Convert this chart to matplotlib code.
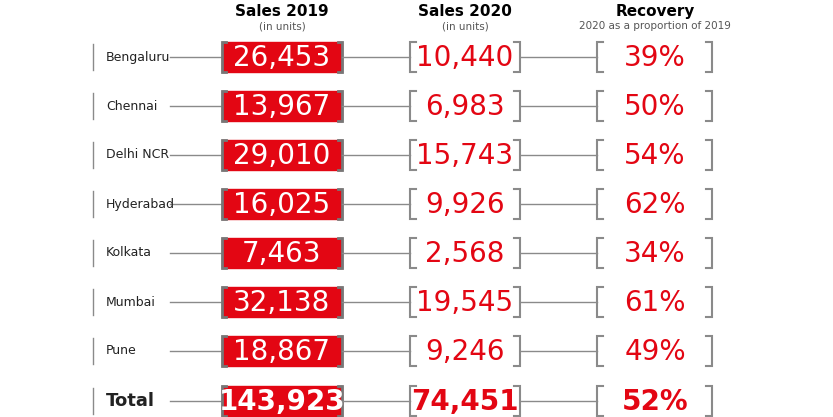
import matplotlib.pyplot as plt
import matplotlib.patches as mpatches

cities = ["Bengaluru", "Chennai", "Delhi NCR", "Hyderabad", "Kolkata", "Mumbai", "Pune", "Total"]
sales_2019 = ["26,453", "13,967", "29,010", "16,025", "7,463", "32,138", "18,867", "143,923"]
sales_2020 = ["10,440", "6,983", "15,743", "9,926", "2,568", "19,545", "9,246", "74,451"]
recovery = ["39%", "50%", "54%", "62%", "34%", "61%", "49%", "52%"]

RED = "#e30613"
GREY = "#8a8a8a"
FONT = "Liberation Sans Narrow"

fig = plt.figure(figsize=(8.33, 4.17), dpi=100)
ax = fig.add_axes([0, 0, 1, 1])
ax.set_xlim(0, 833)
ax.set_ylim(417, 0)
ax.axis("off")

# headers
for x, title, sub in [(282, "Sales 2019", "(in units)"), (465, "Sales 2020", "(in units)"),
                      (655, "Recovery", "2020 as a proportion of 2019")]:
    ax.text(x, 11, title, ha="center", va="center", fontsize=11, fontweight="bold", family=FONT)
    ax.text(x, 26, sub, ha="center", va="center", fontsize=7.5, color="#555555", family=FONT)


def bracket(x, y, h, side, w=6, color=GREY, lw=1.5):
    d = w if side == "left" else -w
    ax.plot([x + d, x, x, x + d], [y - h, y - h, y + h, y + h], color=color, lw=lw,
            solid_joinstyle="miter")


for i, city in enumerate(cities):
    y = 57 + i * 49 + (1 if i == 7 else 0)
    total = city == "Total"
    ax.plot([93, 93], [y - 13, y + 13], color=GREY, lw=1)
    ax.text(106, y, city, ha="left", va="center", fontsize=13 if total else 9,
            fontweight="bold" if total else "normal", family=FONT, color="#222222")
    ax.plot([170, 222], [y, y], color=GREY, lw=1)
    ax.add_patch(mpatches.Rectangle((222, y - 15), 120, 30, color=RED, zorder=2))
    bracket(222, y, 15, "left", w=4, color="#777777", lw=2)
    bracket(342, y, 15, "right", w=4, color="#777777", lw=2)
    ax.text(282, y + 1, sales_2019[i], ha="center", va="center", fontsize=20, color="white",
            fontweight="bold" if total else "normal", family=FONT, zorder=3)
    ax.plot([342, 410], [y, y], color=GREY, lw=1)
    bracket(410, y, 15, "left")
    bracket(520, y, 15, "right")
    ax.text(465, y + 1, sales_2020[i], ha="center", va="center", fontsize=20, color=RED,
            fontweight="bold" if total else "normal", family=FONT)
    ax.plot([520, 597], [y, y], color=GREY, lw=1)
    bracket(597, y, 15, "left")
    bracket(712, y, 15, "right")
    ax.text(655, y + 1, recovery[i], ha="center", va="center", fontsize=20, color=RED,
            fontweight="bold" if total else "normal", family=FONT)

fig.savefig("out.png", dpi=100, facecolor="white")
